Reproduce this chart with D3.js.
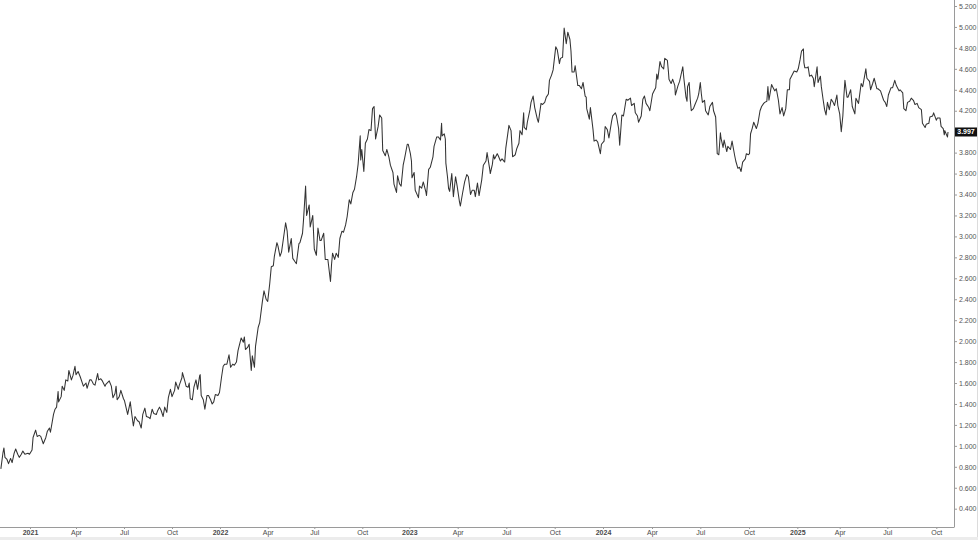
<!DOCTYPE html>
<html>
<head>
<meta charset="utf-8">
<script src="https://cdn.jsdelivr.net/npm/d3@7"></script>
<style>
  html, body { margin: 0; padding: 0; background: #ffffff; }
  svg { display: block; }
  text { font-family: "Liberation Sans", Arial, sans-serif; }
</style>
</head>
<body>
<svg id="chart" width="978" height="540"></svg>
<script>
// ---------------- DATA ----------------
const dates = [
"2020-11-05","2020-11-09","2020-11-11","2020-11-13","2020-11-17","2020-11-20","2020-11-24","2020-11-27",
"2020-12-01","2020-12-04","2020-12-08","2020-12-11","2020-12-15","2020-12-18","2020-12-22","2020-12-28","2020-12-31",
"2021-01-05","2021-01-07","2021-01-12","2021-01-15","2021-01-19","2021-01-22","2021-01-27",
"2021-02-01","2021-02-04","2021-02-08","2021-02-10","2021-02-16","2021-02-19","2021-02-22","2021-02-25","2021-02-26",
"2021-03-03","2021-03-05","2021-03-09","2021-03-12","2021-03-16","2021-03-18","2021-03-23","2021-03-26","2021-03-30",
"2021-04-01","2021-04-05","2021-04-09","2021-04-15","2021-04-20","2021-04-22","2021-04-27","2021-04-30",
"2021-05-04","2021-05-07","2021-05-12","2021-05-14","2021-05-18","2021-05-21","2021-05-26","2021-05-28",
"2021-06-03","2021-06-07","2021-06-10","2021-06-14","2021-06-16","2021-06-18","2021-06-22","2021-06-25","2021-06-30",
"2021-07-02","2021-07-08","2021-07-13","2021-07-16","2021-07-19","2021-07-22","2021-07-27","2021-07-30",
"2021-08-03","2021-08-06","2021-08-10","2021-08-13","2021-08-18","2021-08-20","2021-08-24","2021-08-27",
"2021-09-01","2021-09-03","2021-09-07","2021-09-10","2021-09-14","2021-09-17","2021-09-21","2021-09-24","2021-09-28",
"2021-10-01","2021-10-06","2021-10-08","2021-10-13","2021-10-15","2021-10-20","2021-10-21","2021-10-26","2021-10-28",
"2021-11-01","2021-11-03","2021-11-05","2021-11-09","2021-11-12","2021-11-16","2021-11-19","2021-11-23","2021-11-24","2021-11-26","2021-11-30",
"2021-12-03","2021-12-07","2021-12-10","2021-12-14","2021-12-17","2021-12-20","2021-12-23","2021-12-28","2021-12-31",
"2022-01-04","2022-01-07","2022-01-10","2022-01-14","2022-01-18","2022-01-21","2022-01-25","2022-01-28",
"2022-02-01","2022-02-04","2022-02-10","2022-02-14","2022-02-16","2022-02-18","2022-02-22","2022-02-25",
"2022-03-01","2022-03-03","2022-03-07","2022-03-09","2022-03-14","2022-03-17","2022-03-22","2022-03-25","2022-03-29",
"2022-04-01","2022-04-05","2022-04-08","2022-04-12","2022-04-14","2022-04-19","2022-04-21","2022-04-25","2022-04-28",
"2022-05-02","2022-05-06","2022-05-09","2022-05-12","2022-05-17","2022-05-20","2022-05-24","2022-05-27",
"2022-06-01","2022-06-03","2022-06-08","2022-06-10","2022-06-14","2022-06-16","2022-06-21","2022-06-23","2022-06-28",
"2022-07-01","2022-07-05","2022-07-08","2022-07-12","2022-07-14","2022-07-19","2022-07-22","2022-07-27",
"2022-08-01","2022-08-03","2022-08-05","2022-08-09","2022-08-12","2022-08-16","2022-08-19","2022-08-23","2022-08-26","2022-08-30",
"2022-09-02","2022-09-06","2022-09-09","2022-09-13","2022-09-16","2022-09-20","2022-09-23","2022-09-27","2022-09-28","2022-09-30",
"2022-10-04","2022-10-07","2022-10-11","2022-10-14","2022-10-18","2022-10-21","2022-10-24","2022-10-27",
"2022-11-01","2022-11-04","2022-11-08","2022-11-10","2022-11-15","2022-11-18","2022-11-22","2022-11-25","2022-11-30",
"2022-12-02","2022-12-07","2022-12-09","2022-12-13","2022-12-16","2022-12-20","2022-12-23","2022-12-28","2022-12-30",
"2023-01-03","2023-01-05","2023-01-06","2023-01-10","2023-01-12","2023-01-18","2023-01-20","2023-01-24","2023-01-27",
"2023-02-01","2023-02-02","2023-02-06","2023-02-09","2023-02-14","2023-02-16","2023-02-21","2023-02-24","2023-02-28",
"2023-03-02","2023-03-03","2023-03-07","2023-03-09","2023-03-10","2023-03-13","2023-03-15","2023-03-17","2023-03-21","2023-03-24","2023-03-28","2023-03-31",
"2023-04-04","2023-04-06","2023-04-10","2023-04-14","2023-04-18","2023-04-21","2023-04-25","2023-04-28",
"2023-05-02","2023-05-04","2023-05-08","2023-05-11","2023-05-16","2023-05-19","2023-05-24","2023-05-26","2023-05-31",
"2023-06-01","2023-06-05","2023-06-07","2023-06-09","2023-06-14","2023-06-16","2023-06-20","2023-06-23","2023-06-28","2023-06-30",
"2023-07-06","2023-07-10","2023-07-13","2023-07-18","2023-07-21","2023-07-25","2023-07-27","2023-07-31",
"2023-08-03","2023-08-04","2023-08-08","2023-08-10","2023-08-15","2023-08-17","2023-08-21","2023-08-24","2023-08-29","2023-08-31",
"2023-09-05","2023-09-08","2023-09-12","2023-09-15","2023-09-19","2023-09-21","2023-09-25","2023-09-28",
"2023-10-03","2023-10-06","2023-10-10","2023-10-12","2023-10-16","2023-10-19","2023-10-23","2023-10-26","2023-10-30",
"2023-11-01","2023-11-03","2023-11-07","2023-11-09","2023-11-14","2023-11-17","2023-11-21","2023-11-24","2023-11-28","2023-11-30",
"2023-12-01","2023-12-06","2023-12-08","2023-12-13","2023-12-15","2023-12-19","2023-12-22","2023-12-27","2023-12-29",
"2024-01-03","2024-01-05","2024-01-09","2024-01-12","2024-01-17","2024-01-19","2024-01-24","2024-01-26","2024-01-30",
"2024-02-01","2024-02-05","2024-02-08","2024-02-13","2024-02-16","2024-02-21","2024-02-23","2024-02-28",
"2024-03-01","2024-03-05","2024-03-07","2024-03-12","2024-03-15","2024-03-18","2024-03-21","2024-03-26","2024-03-28",
"2024-04-02","2024-04-05","2024-04-08","2024-04-10","2024-04-12","2024-04-16","2024-04-19","2024-04-23","2024-04-25","2024-04-30",
"2024-05-02","2024-05-03","2024-05-07","2024-05-10","2024-05-14","2024-05-15","2024-05-20","2024-05-23","2024-05-29","2024-05-31",
"2024-06-04","2024-06-06","2024-06-07","2024-06-10","2024-06-12","2024-06-14","2024-06-18","2024-06-21","2024-06-26","2024-06-28",
"2024-07-01","2024-07-03","2024-07-05","2024-07-09","2024-07-11","2024-07-16","2024-07-19","2024-07-24","2024-07-26","2024-07-30","2024-07-31",
"2024-08-02","2024-08-05","2024-08-08","2024-08-09","2024-08-13","2024-08-15","2024-08-20","2024-08-22","2024-08-27","2024-08-30",
"2024-09-04","2024-09-06","2024-09-10","2024-09-13","2024-09-16","2024-09-19","2024-09-24","2024-09-26","2024-09-30",
"2024-10-02","2024-10-04","2024-10-07","2024-10-10","2024-10-15","2024-10-18","2024-10-22","2024-10-25","2024-10-29","2024-10-31",
"2024-11-04","2024-11-06","2024-11-08","2024-11-13","2024-11-15","2024-11-19","2024-11-22","2024-11-26","2024-11-29",
"2024-12-03","2024-12-06","2024-12-10","2024-12-13","2024-12-17","2024-12-18","2024-12-20","2024-12-26","2024-12-31",
"2025-01-03","2025-01-07","2025-01-10","2025-01-14","2025-01-15","2025-01-17","2025-01-22","2025-01-24","2025-01-27","2025-01-31",
"2025-02-04","2025-02-06","2025-02-12","2025-02-14","2025-02-19","2025-02-21","2025-02-25","2025-02-28",
"2025-03-03","2025-03-06","2025-03-10","2025-03-14","2025-03-18","2025-03-21","2025-03-26","2025-03-28",
"2025-04-01","2025-04-04","2025-04-07","2025-04-09","2025-04-11","2025-04-15","2025-04-17","2025-04-22","2025-04-25","2025-04-30",
"2025-05-02","2025-05-07","2025-05-12","2025-05-15","2025-05-21","2025-05-23","2025-05-28","2025-05-30",
"2025-06-03","2025-06-06","2025-06-11","2025-06-13","2025-06-18","2025-06-24","2025-06-27","2025-06-30",
"2025-07-03","2025-07-08","2025-07-11","2025-07-15","2025-07-18","2025-07-23","2025-07-25","2025-07-30",
"2025-08-01","2025-08-05","2025-08-08","2025-08-12","2025-08-15","2025-08-19","2025-08-22","2025-08-26","2025-08-29",
"2025-09-03","2025-09-05","2025-09-10","2025-09-12","2025-09-17","2025-09-19","2025-09-24","2025-09-26",
"2025-10-01","2025-10-03","2025-10-08","2025-10-10","2025-10-14","2025-10-16","2025-10-17","2025-10-21","2025-10-22","2025-10-23"
];

const values = [
0.78,0.93,0.98,0.89,0.87,0.83,0.88,0.84,
0.93,0.97,0.92,0.89,0.92,0.95,0.92,0.93,0.92,
0.96,1.08,1.15,1.09,1.10,1.09,1.02,
1.08,1.14,1.17,1.13,1.30,1.35,1.37,1.52,1.42,
1.47,1.57,1.53,1.63,1.62,1.72,1.63,1.67,1.76,
1.68,1.71,1.66,1.57,1.60,1.55,1.63,1.63,
1.59,1.58,1.69,1.63,1.64,1.62,1.57,1.59,
1.62,1.57,1.46,1.50,1.57,1.44,1.47,1.53,1.45,
1.43,1.30,1.42,1.30,1.19,1.28,1.24,1.23,
1.17,1.30,1.36,1.28,1.27,1.26,1.35,1.31,
1.30,1.33,1.37,1.34,1.28,1.37,1.32,1.46,1.54,
1.47,1.53,1.61,1.54,1.58,1.65,1.70,1.61,1.57,
1.56,1.60,1.45,1.44,1.56,1.63,1.54,1.67,1.68,1.48,1.44,
1.35,1.48,1.48,1.44,1.40,1.42,1.49,1.48,1.51,
1.66,1.76,1.78,1.78,1.87,1.75,1.78,1.77,
1.80,1.91,2.03,1.99,2.04,1.92,1.94,1.97,
1.72,1.86,1.75,1.95,2.13,2.18,2.38,2.48,2.40,
2.38,2.55,2.71,2.72,2.81,2.94,2.91,2.81,2.85,
2.99,3.13,3.05,2.85,2.98,2.79,2.76,2.74,
2.93,2.94,3.03,3.16,3.48,3.20,3.30,3.09,3.20,
2.88,2.82,3.08,2.96,2.96,3.03,2.78,2.78,
2.57,2.73,2.84,2.78,2.84,2.80,2.98,3.05,3.04,3.11,
3.19,3.35,3.31,3.42,3.45,3.57,3.69,3.96,3.73,3.83,
3.62,3.89,3.93,4.02,4.01,4.22,4.24,3.93,
4.05,4.16,4.13,3.82,3.77,3.83,3.76,3.68,3.61,
3.50,3.42,3.58,3.50,3.48,3.68,3.75,3.88,3.88,
3.79,3.72,3.56,3.61,3.44,3.37,3.48,3.46,3.52,
3.42,3.39,3.64,3.66,3.76,3.86,3.95,3.95,3.92,
4.08,3.96,3.98,3.93,3.70,3.57,3.46,3.43,3.60,3.38,3.57,3.48,
3.34,3.29,3.41,3.52,3.59,3.57,3.40,3.44,
3.44,3.38,3.51,3.39,3.54,3.68,3.72,3.80,3.64,
3.60,3.69,3.78,3.74,3.79,3.77,3.72,3.74,3.71,3.84,
4.06,4.01,3.76,3.78,3.84,3.89,4.01,3.97,
4.18,4.04,4.02,4.09,4.21,4.28,4.34,4.23,4.12,4.09,
4.27,4.26,4.28,4.33,4.36,4.49,4.54,4.59,
4.81,4.78,4.65,4.70,4.71,4.99,4.84,4.95,4.88,
4.77,4.57,4.57,4.63,4.44,4.44,4.41,4.47,4.34,4.33,
4.22,4.12,4.23,4.02,3.91,3.92,3.90,3.79,3.88,
3.91,4.05,4.02,3.94,4.10,4.15,4.18,4.15,4.03,
3.87,4.16,4.15,4.31,4.30,4.32,4.25,4.27,
4.18,4.15,4.09,4.15,4.31,4.34,4.27,4.23,4.20,
4.36,4.39,4.42,4.55,4.50,4.67,4.62,4.60,4.70,4.68,
4.57,4.50,4.46,4.50,4.44,4.35,4.44,4.48,4.62,4.51,
4.33,4.29,4.43,4.47,4.31,4.20,4.22,4.26,4.32,4.36,
4.47,4.36,4.28,4.30,4.20,4.16,4.24,4.28,4.20,4.14,4.03,
3.79,3.78,3.99,3.94,3.85,3.92,3.81,3.86,3.83,3.91,
3.77,3.72,3.65,3.66,3.62,3.71,3.74,3.79,3.78,
3.79,3.98,4.03,4.09,4.03,4.08,4.20,4.24,4.27,4.28,
4.29,4.43,4.30,4.45,4.43,4.39,4.41,4.30,4.17,
4.23,4.15,4.22,4.40,4.40,4.50,4.52,4.58,4.57,
4.60,4.69,4.77,4.79,4.66,4.61,4.61,4.62,4.53,4.54,
4.51,4.43,4.62,4.47,4.53,4.43,4.30,4.21,
4.16,4.28,4.21,4.31,4.28,4.25,4.35,4.25,
4.17,4.00,4.15,4.34,4.49,4.33,4.33,4.40,4.24,4.17,
4.32,4.27,4.46,4.43,4.60,4.51,4.48,4.40,
4.46,4.51,4.41,4.41,4.39,4.30,4.28,4.24,
4.35,4.42,4.42,4.49,4.44,4.39,4.40,4.37,
4.22,4.20,4.28,4.29,4.32,4.30,4.26,4.27,4.23,
4.21,4.08,4.04,4.07,4.08,4.14,4.15,4.18,
4.11,4.13,4.13,4.05,4.03,3.97,4.01,3.96,3.95,3.997
];

const yTickValues = [0.4,0.6,0.8,1.0,1.2,1.4,1.6,1.8,2.0,2.2,2.4,2.6,2.8,3.0,3.2,3.4,3.6,3.8,4.0,4.2,4.4,4.6,4.8,5.0,5.2];
const xTickDates = ["2021-01-01","2021-04-01","2021-07-01","2021-10-01","2022-01-01","2022-04-01","2022-07-01","2022-10-01",
  "2023-01-01","2023-04-01","2023-07-01","2023-10-01","2024-01-01","2024-04-01","2024-07-01","2024-10-01",
  "2025-01-01","2025-04-01","2025-07-01","2025-10-01"];
const xTickLabels = ["2021","Apr","Jul","Oct","2022","Apr","Jul","Oct","2023","Apr","Jul","Oct","2024","Apr","Jul","Oct","2025","Apr","Jul","Oct"];
const lastLabel = "3.997";

// ---------------- DRAW ----------------
const parse = d3.utcParse("%Y-%m-%d");
const series = dates.map((d, i) => ({ date: parse(d), value: values[i] }));
const tickDates = xTickDates.map(parse);

const svg = d3.select("#chart");
const W = 978, H = 540;
const axisX = 954, axisY = 527;

// time axis calibrated at the quarter ticks (slightly uneven spacing in the original)
const x = d3.scaleUtc()
  .domain(tickDates)
  .range([30, 76, 124, 172, 220, 267.7, 314.3, 362.3, 409.3, 457.7, 506.3, 554.7, 603, 652, 700.3, 749, 797.3, 839.7, 887.3, 936.3]);

const y = d3.scaleLinear().domain([0.4, 5.2]).range([508.7, 6]);

// background
svg.append("rect").attr("x", 0).attr("y", 0).attr("width", W).attr("height", H).attr("fill", "#ffffff");
svg.append("rect").attr("x", 0).attr("y", 537).attr("width", W).attr("height", 3).attr("fill", "#ececec");
svg.append("rect").attr("x", 977).attr("y", 0).attr("width", 1).attr("height", 537).attr("fill", "#dcdcdc");

// line
const line = d3.line().x(d => x(d.date)).y(d => y(d.value));
svg.append("path")
  .datum(series)
  .attr("fill", "none")
  .attr("stroke", "#333333")
  .attr("stroke-width", 1.05)
  .attr("stroke-linejoin", "round")
  .attr("d", line);

// x axis
const xAxis = d3.axisBottom(x)
  .tickValues(tickDates)
  .tickSize(2)
  .tickSizeOuter(0)
  .tickPadding(1.5)
  .tickFormat((d, i) => xTickLabels[i]);
const gx = svg.append("g").attr("transform", `translate(0,${axisY})`).call(xAxis);
gx.select(".domain").attr("d", `M0,0.5H${axisX}`).attr("stroke", "#9a9a9a");
gx.selectAll(".tick line").attr("stroke", "#9a9a9a");
gx.selectAll(".tick text")
  .attr("fill", "#4a4a4a")
  .attr("font-size", 7)
  .attr("font-family", "'Liberation Sans', Arial, sans-serif")
  .attr("font-weight", (d, i) => (xTickLabels[i].length === 4 ? "bold" : "normal"));

// y axis (right)
const yAxis = d3.axisRight(y)
  .tickValues(yTickValues)
  .tickSize(3)
  .tickSizeOuter(0)
  .tickPadding(2)
  .tickFormat(d3.format(".3f"));
const gy = svg.append("g").attr("transform", `translate(${axisX},0)`).call(yAxis);
gy.select(".domain").attr("d", `M0.5,0V${axisY + 0.5}`).attr("stroke", "#9a9a9a");
gy.selectAll(".tick line").attr("stroke", "#9a9a9a");
gy.selectAll(".tick text")
  .attr("fill", "#555555")
  .attr("font-size", 7)
  .attr("font-family", "'Liberation Sans', Arial, sans-serif");

// last value marker
const last = series[series.length - 1];
const ly = y(last.value);
svg.append("rect")
  .attr("x", axisX + 1).attr("y", ly - 4.5)
  .attr("width", 22).attr("height", 9)
  .attr("fill", "#111111");
svg.append("text")
  .attr("x", axisX + 12).attr("y", ly)
  .attr("dy", "0.35em")
  .attr("text-anchor", "middle")
  .attr("fill", "#ffffff")
  .attr("font-size", 7)
  .attr("font-weight", "bold")
  .text(lastLabel);
</script>
</body>
</html>
